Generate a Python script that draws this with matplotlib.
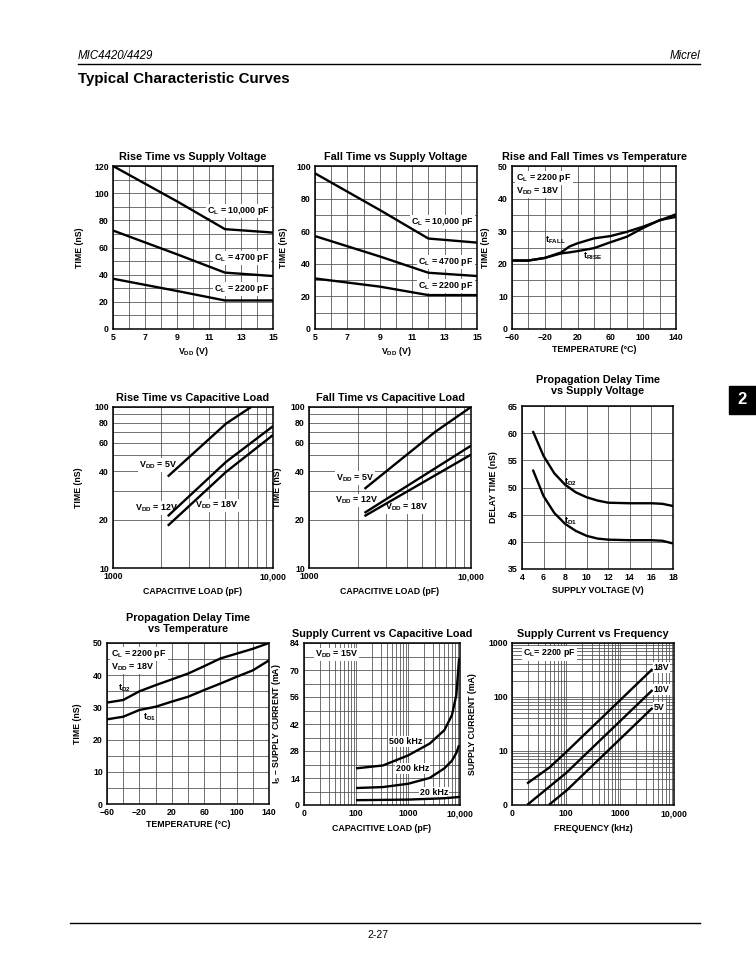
import matplotlib
matplotlib.use('Agg')
import matplotlib.pyplot as plt
from matplotlib.lines import Line2D
from matplotlib.patches import Rectangle
from matplotlib.ticker import FixedLocator, NullFormatter

plt.rcParams['font.family'] = ['Liberation Sans', 'DejaVu Sans']
plt.rcParams['font.weight'] = 'bold'
plt.rcParams['mathtext.fontset'] = 'custom'
plt.rcParams['mathtext.rm'] = 'Liberation Sans:bold'
plt.rcParams['mathtext.it'] = 'Liberation Sans:bold'
plt.rcParams['mathtext.bf'] = 'Liberation Sans:bold'

# --- data ---
# rise / fall time vs supply voltage (nS)
vdd = [5, 9, 12, 15]
rise_10000 = [120, 94, 73.5, 71]
rise_4700 = [72.5, 55, 41.5, 39]
rise_2200 = [37, 28, 21, 21]
fall_10000 = [95.5, 73, 55.5, 53]
fall_4700 = [57, 44.5, 34.5, 32.5]
fall_2200 = [31, 26, 20.8, 20.8]

# rise and fall time vs temperature
temp_rf = [-60, -40, -20, 0, 10, 20, 40, 60, 80, 100, 120, 140]
t_fall = [21, 21, 21.8, 23.5, 25.3, 26.3, 27.8, 28.5, 29.8, 31.4, 33.3, 35.2]
t_rise = [21, 21, 21.8, 23.2, 23.5, 23.9, 24.8, 26.6, 28.3, 31.0, 33.4, 34.4]

# rise / fall time vs capacitive load
cap_r5 = [2200, 5100, 7300]
rise_5v = [37, 79, 100]
cap_r12 = [2200, 5100, 10000]
rise_12v = [21, 45.7, 76]
rise_18v = [18.3, 39.6, 67]
cap_f5 = [2200, 6000, 10000]
fall_5v = [31, 70, 100]
cap_f12 = [2200, 10000]
fall_12v = [22, 57.5]
fall_18v = [21, 50.6]

# propagation delay vs supply voltage
v_sup = [5, 6, 7, 8, 9, 10, 11, 12, 14, 16, 17, 18]
td2_v = [60.4, 55.8, 52.6, 50.5, 49.1, 48.2, 47.6, 47.2, 47.1, 47.1, 47.0, 46.6]
td1_v = [53.3, 48.4, 45.3, 43.3, 42.0, 41.1, 40.6, 40.4, 40.3, 40.3, 40.2, 39.7]

# propagation delay vs temperature
temp_pd = [-60, -40, -20, 0, 20, 40, 60, 80, 100, 120, 140]
td2_t = [31.5, 32.3, 35, 36.9, 38.7, 40.5, 42.8, 45.2, 46.7, 48.2, 50]
td1_t = [26.3, 27.1, 29.2, 30.2, 31.8, 33.3, 35.4, 37.4, 39.5, 41.5, 44.6]

# supply current vs capacitive load (VDD = 15V)
cap_is = [100, 330, 1000, 2600, 5000, 7000, 8500, 9600]
is_500k = [19, 20.5, 25.7, 31.8, 38.8, 46.6, 57, 76]
is_200k = [8.8, 9.3, 11, 14, 19, 23, 27, 31]
cap_is20 = [100, 1000, 5000, 10000]
is_20k = [2.5, 2.8, 3.5, 4.2]

# supply current vs frequency
f_18v = [19, 50, 100, 4000]
is_18v = [2.5, 5, 9.5, 330]
f_10v = [19, 100, 4000]
is_10v = [1, 3.9, 135]
f_5v = [48, 105, 4000]
is_5v = [1, 1.9, 63]

W, H = 756, 973
fig = plt.figure(figsize=(W / 100, H / 100), dpi=100)
fig.patch.set_facecolor('white')

LW = 1.7
TICK = 6.3
LAB = 6.3


def px_axes(l, t, r, b):
    return fig.add_axes([l / W, 1 - b / H, (r - l) / W, (b - t) / H])


def frame(ax, title, pad=4):
    ax.set_title(title, fontsize=7.8, fontweight='bold', pad=pad, linespacing=1.05)
    ax.tick_params(which='both', length=0, labelsize=TICK, pad=3)
    for s in ax.spines.values():
        s.set_linewidth(1.1)
        s.set_zorder(5)
    ax.grid(True, which='both', color='#4a4a4a', lw=0.55)
    ax.set_axisbelow(True)


def curve(ax, x, y):
    ax.plot(x, y, color='black', lw=LW, zorder=4, solid_capstyle='butt')


def note(ax, x, y, s, ha='left', box=True):
    kw = dict(fontsize=6.4, fontweight='bold', ha=ha, va='center', zorder=3)
    if box:
        kw['bbox'] = dict(facecolor='white', edgecolor='none', pad=0.8)
    ax.text(x, y, s, **kw)


CL = r'C$_{\rm L}$'
VDD = r'V$_{\rm DD}$'

# 1: rise time vs supply voltage
ax = px_axes(113, 166, 273, 329)
frame(ax, 'Rise Time vs Supply Voltage')
for y in (rise_10000, rise_4700, rise_2200):
    curve(ax, vdd, y)
ax.set_xlim(5, 15)
ax.set_ylim(0, 120)
ax.xaxis.set_major_locator(FixedLocator([5, 7, 9, 11, 13, 15]))
ax.xaxis.set_minor_locator(FixedLocator(range(5, 16)))
ax.yaxis.set_major_locator(FixedLocator(range(0, 121, 20)))
ax.yaxis.set_minor_locator(FixedLocator(range(0, 121, 10)))
ax.set_xlabel(VDD + ' (V)', fontsize=LAB, fontweight='bold', labelpad=2)
ax.set_ylabel('TIME (nS)', fontsize=LAB, fontweight='bold', labelpad=7)
note(ax, 14.8, 87, CL + ' = 10,000 pF', ha='right')
note(ax, 14.8, 52, CL + ' = 4700 pF', ha='right')
note(ax, 14.8, 29.5, CL + ' = 2200 pF', ha='right')

# 2: fall time vs supply voltage
ax = px_axes(315, 166, 477, 329)
frame(ax, 'Fall Time vs Supply Voltage')
for y in (fall_10000, fall_4700, fall_2200):
    curve(ax, vdd, y)
ax.set_xlim(5, 15)
ax.set_ylim(0, 100)
ax.xaxis.set_major_locator(FixedLocator([5, 7, 9, 11, 13, 15]))
ax.xaxis.set_minor_locator(FixedLocator(range(5, 16)))
ax.yaxis.set_major_locator(FixedLocator(range(0, 101, 20)))
ax.yaxis.set_minor_locator(FixedLocator(range(0, 101, 10)))
ax.set_xlabel(VDD + ' (V)', fontsize=LAB, fontweight='bold', labelpad=2)
ax.set_ylabel('TIME (nS)', fontsize=LAB, fontweight='bold', labelpad=6)
note(ax, 14.8, 65.5, CL + ' = 10,000 pF', ha='right')
note(ax, 14.8, 41, CL + ' = 4700 pF', ha='right')
note(ax, 14.8, 26.5, CL + ' = 2200 pF', ha='right')

# 3: rise and fall times vs temperature
ax = px_axes(512, 166, 676, 329)
frame(ax, 'Rise and Fall Times vs Temperature')
curve(ax, temp_rf, t_fall)
curve(ax, temp_rf, t_rise)
ax.set_xlim(-60, 140)
ax.set_ylim(0, 50)
ax.xaxis.set_major_locator(FixedLocator(range(-60, 141, 40)))
ax.xaxis.set_minor_locator(FixedLocator(range(-60, 141, 20)))
ax.yaxis.set_major_locator(FixedLocator(range(0, 51, 10)))
ax.yaxis.set_minor_locator(FixedLocator(range(0, 51, 5)))
ax.set_xticklabels(['\u221260', '\u221220', '20', '60', '100', '140'])
ax.set_xlabel('TEMPERATURE (\u00b0C)', fontsize=LAB, fontweight='bold', labelpad=2)
ax.set_ylabel('TIME (nS)', fontsize=LAB, fontweight='bold', labelpad=6)
note(ax, -55, 46.3, CL + ' = 2200 pF')
note(ax, -55, 42.2, VDD + ' = 18V')
note(ax, -20, 27.3, r't$_{\rm FALL}$', box=False)
note(ax, 27, 22.2, r't$_{\rm RISE}$', box=False)

# 4: rise time vs capacitive load
logy_ticks = [10, 20, 40, 60, 80, 100]
ax = px_axes(113, 407, 273, 568)
frame(ax, 'Rise Time vs Capacitive Load')
curve(ax, cap_r5, rise_5v)
curve(ax, cap_r12, rise_12v)
curve(ax, cap_r12, rise_18v)
ax.set_xscale('log')
ax.set_yscale('log')
ax.set_xlim(1000, 10000)
ax.set_ylim(10, 100)
ax.xaxis.set_major_locator(FixedLocator([1000, 10000]))
ax.xaxis.set_minor_locator(FixedLocator(range(2000, 10000, 1000)))
ax.xaxis.set_minor_formatter(NullFormatter())
ax.set_xticklabels(['1000', '10,000'])
ax.yaxis.set_major_locator(FixedLocator(logy_ticks))
ax.yaxis.set_minor_locator(FixedLocator([30, 50, 70, 90]))
ax.yaxis.set_minor_formatter(NullFormatter())
ax.set_yticklabels([str(v) for v in logy_ticks])
ax.set_xlabel('CAPACITIVE LOAD (pF)', fontsize=LAB, fontweight='bold', labelpad=4)
ax.set_ylabel('TIME (nS)', fontsize=LAB, fontweight='bold', labelpad=8)
note(ax, 1450, 43.6, VDD + ' = 5V')
note(ax, 1370, 23.5, VDD + ' = 12V')
note(ax, 3250, 24.5, VDD + ' = 18V')

# 5: fall time vs capacitive load
ax = px_axes(309, 407, 471, 568)
frame(ax, 'Fall Time vs Capacitive Load')
curve(ax, cap_f5, fall_5v)
curve(ax, cap_f12, fall_12v)
curve(ax, cap_f12, fall_18v)
ax.set_xscale('log')
ax.set_yscale('log')
ax.set_xlim(1000, 10000)
ax.set_ylim(10, 100)
ax.xaxis.set_major_locator(FixedLocator([1000, 10000]))
ax.xaxis.set_minor_locator(FixedLocator(range(2000, 10000, 1000)))
ax.xaxis.set_minor_formatter(NullFormatter())
ax.set_xticklabels(['1000', '10,000'])
ax.yaxis.set_major_locator(FixedLocator(logy_ticks))
ax.yaxis.set_minor_locator(FixedLocator([30, 50, 70, 90]))
ax.yaxis.set_minor_formatter(NullFormatter())
ax.set_yticklabels([str(v) for v in logy_ticks])
ax.set_xlabel('CAPACITIVE LOAD (pF)', fontsize=LAB, fontweight='bold', labelpad=4)
ax.set_ylabel('TIME (nS)', fontsize=LAB, fontweight='bold', labelpad=6)
note(ax, 1460, 36.3, VDD + ' = 5V')
note(ax, 1440, 26.2, VDD + ' = 12V')
note(ax, 2950, 24, VDD + ' = 18V')

# 6: propagation delay vs supply voltage
ax = px_axes(522, 406, 673, 569)
frame(ax, 'Propagation Delay Time\nvs Supply Voltage', pad=9)
curve(ax, v_sup, td2_v)
curve(ax, v_sup, td1_v)
ax.set_xlim(4, 18)
ax.set_ylim(35, 65)
ax.xaxis.set_major_locator(FixedLocator(range(4, 19, 2)))
ax.yaxis.set_major_locator(FixedLocator(range(35, 66, 5)))
ax.set_xlabel('SUPPLY VOLTAGE (V)', fontsize=LAB, fontweight='bold', labelpad=3)
ax.set_ylabel('DELAY TIME (nS)', fontsize=LAB, fontweight='bold', labelpad=7)
note(ax, 7.85, 51, r't$_{\rm D2}$', box=False)
note(ax, 7.85, 43.7, r't$_{\rm D1}$', box=False)

# 7: propagation delay vs temperature
ax = px_axes(107, 643, 269, 804)
frame(ax, 'Propagation Delay Time\nvs Temperature', pad=8)
curve(ax, temp_pd, td2_t)
curve(ax, temp_pd, td1_t)
ax.set_xlim(-60, 140)
ax.set_ylim(0, 50)
ax.xaxis.set_major_locator(FixedLocator(range(-60, 141, 40)))
ax.xaxis.set_minor_locator(FixedLocator(range(-60, 141, 20)))
ax.yaxis.set_major_locator(FixedLocator(range(0, 51, 10)))
ax.yaxis.set_minor_locator(FixedLocator(range(0, 51, 5)))
ax.set_xticklabels(['\u221260', '\u221220', '20', '60', '100', '140'])
ax.set_xlabel('TEMPERATURE (\u00b0C)', fontsize=LAB, fontweight='bold', labelpad=2)
ax.set_ylabel('TIME (nS)', fontsize=LAB, fontweight='bold', labelpad=8)
note(ax, -55, 46.7, CL + ' = 2200 pF')
note(ax, -55, 42.5, VDD + ' = 18V')
note(ax, -47, 35.8, r't$_{\rm D2}$', box=False)
note(ax, -16, 26.9, r't$_{\rm D1}$', box=False)

# 8: supply current vs capacitive load
ax = px_axes(304, 643, 460, 805)
frame(ax, 'Supply Current vs Capacitive Load')
curve(ax, cap_is, is_500k)
curve(ax, cap_is, is_200k)
curve(ax, cap_is20, is_20k)
ax.set_xscale('log')
ax.set_xlim(10, 10000)
ax.set_ylim(0, 84)
ax.xaxis.set_major_locator(FixedLocator([10, 100, 1000, 10000]))
ax.set_xticklabels(['0', '100', '1000', '10,000'])
minors = [m * d for d in (10, 100, 1000) for m in range(2, 10)]
ax.xaxis.set_minor_locator(FixedLocator(minors))
ax.xaxis.set_minor_formatter(NullFormatter())
ax.yaxis.set_major_locator(FixedLocator(range(0, 85, 14)))
ax.yaxis.set_minor_locator(FixedLocator(range(0, 85, 7)))
ax.set_xlabel('CAPACITIVE LOAD (pF)', fontsize=LAB, fontweight='bold', labelpad=4)
ax.set_ylabel('I$_{\\rm S}$ \u2013 SUPPLY CURRENT (mA)', fontsize=LAB,
              fontweight='bold', labelpad=5)
note(ax, 16, 78, VDD + ' = 15V')
note(ax, 440, 33, '500 kHz')
note(ax, 580, 18.8, '200 kHz')
note(ax, 1700, 6.6, '20 kHz')

# 9: supply current vs frequency
ax = px_axes(512, 643, 674, 805)
frame(ax, 'Supply Current vs Frequency')
curve(ax, f_18v, is_18v)
curve(ax, f_10v, is_10v)
curve(ax, f_5v, is_5v)
ax.set_xscale('log')
ax.set_yscale('log')
ax.set_xlim(10, 10000)
ax.set_ylim(1, 1000)
ax.xaxis.set_major_locator(FixedLocator([10, 100, 1000, 10000]))
ax.set_xticklabels(['0', '100', '1000', '10,000'])
ax.xaxis.set_minor_locator(FixedLocator(minors))
ax.xaxis.set_minor_formatter(NullFormatter())
ax.yaxis.set_major_locator(FixedLocator([1, 10, 100, 1000]))
ax.set_yticklabels(['0', '10', '100', '1000'])
ax.yaxis.set_minor_locator(FixedLocator([m * d for d in (1, 10, 100) for m in range(2, 10)]))
ax.yaxis.set_minor_formatter(NullFormatter())
ax.set_xlabel('FREQUENCY (kHz)', fontsize=LAB, fontweight='bold', labelpad=4)
ax.set_ylabel('SUPPLY CURRENT (mA)', fontsize=LAB, fontweight='bold', labelpad=8)
note(ax, 16, 640, CL + '= 2200 pF')
note(ax, 4200, 355, '18V')
note(ax, 4200, 138, '10V')
note(ax, 4300, 65, '5V')

# page furniture
fig.text(78 / W, 1 - 56 / H, 'MIC4420/4429', fontsize=8.3, fontweight='normal',
         style='italic', ha='left', va='center')
fig.text(700 / W, 1 - 56 / H, 'Micrel', fontsize=8.3, fontweight='normal',
         style='italic', ha='right', va='center')
fig.add_artist(Line2D([78 / W, 700 / W], [1 - 64 / H, 1 - 64 / H], color='black', lw=1.0))
fig.text(78 / W, 1 - 79 / H, 'Typical Characteristic Curves', fontsize=10.9,
         fontweight='bold', ha='left', va='center')
fig.add_artist(Rectangle((729 / W, 1 - 414 / H), 27 / W, 28 / H, color='black',
                         transform=fig.transFigure))
fig.text(742 / W, 1 - 400 / H, '2', fontsize=12, fontweight='bold', color='white',
         ha='center', va='center')
fig.add_artist(Line2D([70 / W, 700 / W], [1 - 923 / H, 1 - 923 / H], color='black', lw=1.0))
fig.text(378 / W, 1 - 935 / H, '2-27', fontsize=7.5, fontweight='normal',
         ha='center', va='center')

fig.savefig('out.png', dpi=100, facecolor='white')
